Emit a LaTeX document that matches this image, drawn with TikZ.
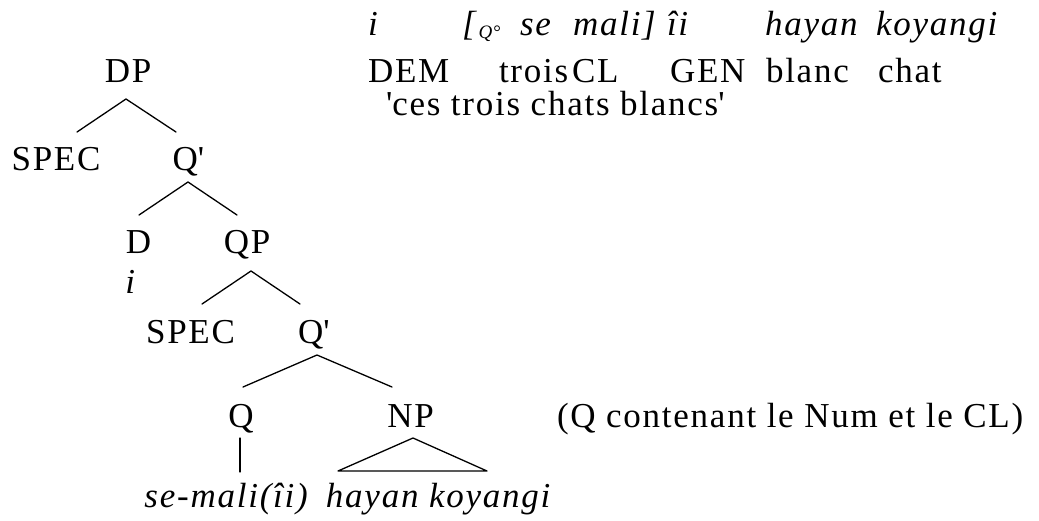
\documentclass[tikz,border=0pt]{standalone}
\usepackage{fontspec}
\setmainfont{Liberation Serif}[LetterSpace=5]
\usetikzlibrary{calc}
\tikzset{
  lbl/.style={font=\fontsize{35}{40}\selectfont, inner sep=0pt, outer sep=0pt},
  gl/.style={lbl, anchor=base west},
  tn/.style={lbl, anchor=base},
  br/.style={line width=1.3pt, line cap=round, line join=round}
}
\newcommand{\sq}{\textquotesingle}
\begin{document}
\begin{tikzpicture}[x=1pt,y=-1pt]
\useasboundingbox (0,0) rectangle (1039,520);
% gloss, line 1
\node[gl] (g1) at (368,35) {\textit{i}};
\node[gl] (g2) at (462,35) {\textit{[}\raisebox{-3pt}{\fontsize{19}{20}\selectfont\textit{Q}°}};
\node[gl] (g3) at (520,35) {\textit{se}};
\node[gl] (g4) at (573,35) {\textit{mali]}};
\node[gl] (g5) at (667,35) {\textit{îi}};
\node[gl] (g6) at (765,35) {\textit{hayan}};
\node[gl] (g7) at (876,35) {\textit{koyangi}};
% gloss, line 2
\node[gl] (h1) at (368,82) {DEM};
\node[gl] (h2) at (499,82) {trois};
\node[gl] (h3) at (572,82) {CL};
\node[gl] (h4) at (670,82) {GEN};
\node[gl] (h5) at (766,82) {blanc};
\node[gl] (h6) at (878,82) {chat};
% translation
\node[gl] (tr) at (386,115) {\sq ces trois chats blancs\sq};
% tree
\node[tn] (DP) at (128,82) {DP};
\node[tn] (SPECa) at (56,170) {SPEC};
\node[tn] (Qpa) at (188.5,170) {Q\sq};
\node[tn] (D) at (138.5,253) {D};
\node[tn] (QP) at (247,253) {QP};
\node[tn] (Di) at (131,293) {\textit{i}};
\node[tn] (SPECb) at (190.5,343) {SPEC};
\node[tn] (Qpb) at (314,343) {Q\sq};
\node[tn] (Q) at (241,427) {Q};
\node[tn] (NP) at (410.5,427) {NP};
\node[gl] (note) at (557,427) {(Q contenant le Num et le CL)};
\node[tn] (semali) at (227,507) {\textit{se-mali(îi)}};
\node[tn] (hk) at (439,507) {\textit{hayan koyangi}};
% branches
\draw[br] ($(SPECa.base)+(21,-38)$) -- ($(DP.base)+(-2,17)$) -- ($(Qpa.base)+(-12.5,-38)$);
\draw[br] ($(D.base)+(0.5,-38)$) -- ($(Qpa.base)+(-0.5,12)$) -- ($(QP.base)+(-10,-38)$);
\draw[br] ($(SPECb.base)+(11.5,-39)$) -- ($(QP.base)+(4,18)$) -- ($(Qpb.base)+(-14,-39)$);
\draw[br] ($(Q.base)+(2,-40)$) -- ($(Qpb.base)+(3,12)$) -- ($(NP.base)+(-18.5,-40)$);
\draw[br] ($(Q.base)+(-1,11)$) -- ($(semali.base)+(13,-35)$);
\draw[br] ($(NP.base)+(2.5,11)$) -- ($(hk.base)+(48,-36)$) -- ($(hk.base)+(-101,-36)$) -- cycle;
\end{tikzpicture}
\end{document}
